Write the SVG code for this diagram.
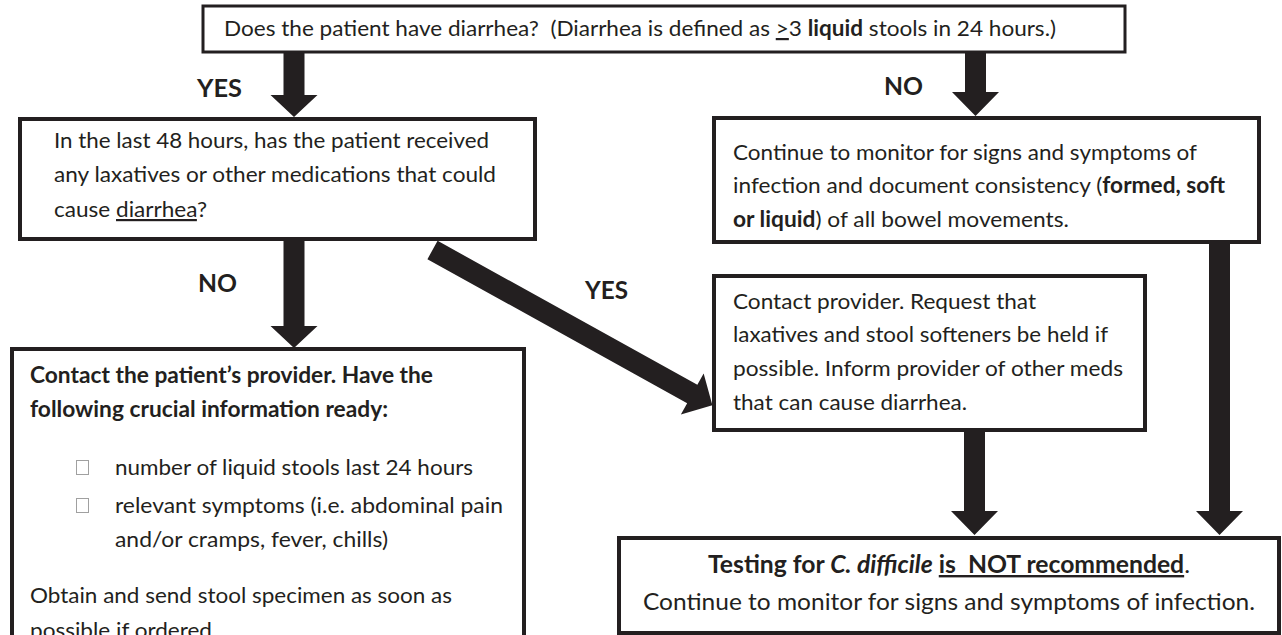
<svg xmlns="http://www.w3.org/2000/svg" width="1282" height="635" viewBox="0 0 1282 635" xml:space="preserve">
<style>
.bg{fill:#ffffff}
.box{fill:#ffffff;stroke:#231f20;stroke-width:4}
.arrow{fill:#231f20;stroke:none}
text{font-family:Lato,"Noto Sans","Liberation Sans",sans-serif;font-size:22px;fill:#231f20;white-space:pre}
.lbl{font-weight:bold;font-size:24px}
.big{font-size:24px}
.b{font-weight:bold}
.i{font-style:italic}
.u{text-decoration:underline}
.chk{fill:none;stroke:#a0a0a0;stroke-width:1}
</style>
<rect class="bg" x="0" y="0" width="1282" height="635"/>

<g id="connectors">
  <polygon class="arrow" points="283.5,52 304.5,52 304.5,95 317.5,95 294,117 270.5,95 283.5,95"/>
  <polygon class="arrow" points="965,52 986,52 986,92 999,92 975.5,116 952,92 965,92"/>
  <polygon class="arrow" points="283.5,238 304.5,238 304.5,326 317.5,326 294,348 270.5,326 283.5,326"/>
  <polygon class="arrow" points="964,430 985,430 985,511 998,511 974.5,535 951,511 964,511"/>
  <polygon class="arrow" points="1209,240 1230,240 1230,511 1243,511 1219.5,535 1196,511 1209,511"/>
  <polygon class="arrow" transform="translate(432.5,250) rotate(29)" points="0,-10.5 297,-10.5 297,-23.5 320,0 297,23.5 297,10.5 0,10.5"/>
  <text class="lbl" x="197" y="97" textLength="45" lengthAdjust="spacingAndGlyphs">YES</text>
  <text class="lbl" x="884" y="95" textLength="39" lengthAdjust="spacingAndGlyphs">NO</text>
  <text class="lbl" x="198" y="292" textLength="39" lengthAdjust="spacingAndGlyphs">NO</text>
  <text class="lbl" x="585" y="299" textLength="43" lengthAdjust="spacingAndGlyphs">YES</text>
</g>

<g id="n-diarrhea">
  <rect class="box" x="203" y="6" width="922" height="46" style="stroke-width:3"/>
  <text x="224" y="36" textLength="832" lengthAdjust="spacingAndGlyphs">Does the patient have diarrhea?  (Diarrhea is defined as <tspan class="u">&gt;</tspan>3 <tspan class="b">liquid</tspan> stools in 24 hours.)</text>
</g>

<g id="n-laxatives">
  <rect class="box" x="20" y="119" width="515" height="120"/>
  <text x="54" y="148" textLength="435" lengthAdjust="spacingAndGlyphs">In the last 48 hours, has the patient received</text>
  <text x="54" y="182" textLength="442" lengthAdjust="spacingAndGlyphs">any laxatives or other medications that could</text>
  <text x="54" y="217" textLength="153" lengthAdjust="spacingAndGlyphs">cause <tspan class="u">diarrhea</tspan>?</text>
</g>

<g id="n-monitor">
  <rect class="box" x="714" y="118" width="545" height="124"/>
  <text x="733" y="160" textLength="464" lengthAdjust="spacingAndGlyphs">Continue to monitor for signs and symptoms of</text>
  <text x="733" y="193" textLength="492" lengthAdjust="spacingAndGlyphs">infection and document consistency (<tspan class="b">formed, soft</tspan></text>
  <text x="733" y="227" textLength="336" lengthAdjust="spacingAndGlyphs"><tspan class="b">or liquid</tspan>) of all bowel movements.</text>
</g>

<g id="n-contact-provider">
  <rect class="box" x="714" y="276" width="431" height="154"/>
  <text x="733" y="309" textLength="303" lengthAdjust="spacingAndGlyphs">Contact provider. Request that</text>
  <text x="733" y="342" textLength="375" lengthAdjust="spacingAndGlyphs">laxatives and stool softeners be held if</text>
  <text x="733" y="376" textLength="390" lengthAdjust="spacingAndGlyphs">possible. Inform provider of other meds</text>
  <text x="733" y="410" textLength="234" lengthAdjust="spacingAndGlyphs">that can cause diarrhea.</text>
</g>

<g id="n-contact-patient-provider">
  <rect class="box" x="12" y="349" width="512" height="320"/>
  <text class="b" x="30" y="383" textLength="403" lengthAdjust="spacingAndGlyphs">Contact the patient’s provider. Have the</text>
  <text class="b" x="30" y="417" textLength="358" lengthAdjust="spacingAndGlyphs">following crucial information ready:</text>
  <rect class="chk" x="76.5" y="460.5" width="12" height="14"/>
  <text x="115" y="475" textLength="358" lengthAdjust="spacingAndGlyphs">number of liquid stools last 24 hours</text>
  <rect class="chk" x="76.5" y="498.5" width="12" height="14"/>
  <text x="115" y="513" textLength="388" lengthAdjust="spacingAndGlyphs">relevant symptoms (i.e. abdominal pain</text>
  <text x="115" y="547" textLength="273" lengthAdjust="spacingAndGlyphs">and/or cramps, fever, chills)</text>
  <text x="30" y="603" textLength="422" lengthAdjust="spacingAndGlyphs">Obtain and send stool specimen as soon as</text>
  <text x="30" y="638" textLength="182" lengthAdjust="spacingAndGlyphs">possible if ordered</text>
</g>

<g id="n-testing">
  <rect class="box" x="619" y="538" width="660" height="95"/>
  <text class="big" x="708" y="573" textLength="482" lengthAdjust="spacingAndGlyphs"><tspan class="b">Testing for </tspan><tspan class="b i">C. difficile</tspan><tspan class="b"> </tspan><tspan class="b u">is  NOT recommended</tspan>.</text>
  <text class="big" x="643" y="610" textLength="612" lengthAdjust="spacingAndGlyphs">Continue to monitor for signs and symptoms of infection.</text>
</g>
</svg>
